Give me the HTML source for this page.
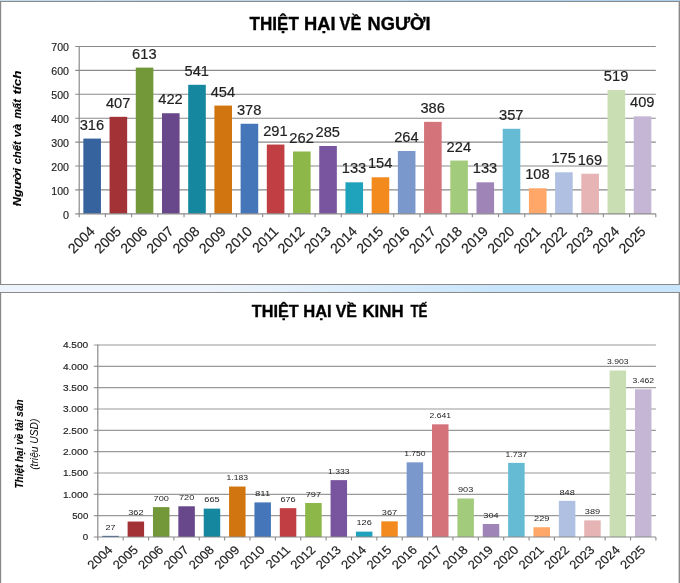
<!DOCTYPE html>
<html lang="vi"><head><meta charset="utf-8"><title>Thiệt hại về người và kinh tế</title>
<style>html,body{margin:0;padding:0;background:#fff}svg{display:block}text{font-family:"Liberation Sans",sans-serif;fill:#222}.k{fill:#000;stroke:#000;stroke-width:.35px}.y{fill:#000;stroke:#000;stroke-width:.12px}.d{stroke:#222;stroke-width:.18px}.e{stroke:#222;stroke-width:.15px}</style></head><body>
<svg width="680" height="583" viewBox="0 0 680 583">
<defs><linearGradient id="bg" x1="0" x2="1" y1="0" y2="0"><stop offset="0" stop-color="#eef4fb"/><stop offset="0.3" stop-color="#eef4fb"/><stop offset="0.74" stop-color="#c9e5fb"/><stop offset="1" stop-color="#c9e5fb"/></linearGradient>
<linearGradient id="tg" x1="0" x2="1" y1="0" y2="0"><stop offset="0" stop-color="#c4dbeb"/><stop offset="1" stop-color="#a9cfee"/></linearGradient></defs>
<rect x="0" y="0" width="680" height="583" fill="#fff"/>
<rect x="0" y="0" width="680" height="1" fill="url(#tg)"/>
<rect x="0" y="285" width="680" height="7" fill="url(#bg)"/>
<rect x="0.5" y="1.5" width="679" height="283" fill="#fff" stroke="#8a8a8a" stroke-width="1"/>
<rect x="0.5" y="292.5" width="679" height="300" fill="#fff" stroke="#8a8a8a" stroke-width="1"/>
<path d="M1.15 2V284M1.15 293V583" stroke="#8a8a8a" stroke-width=".3" fill="none"/>
<path d="M678.75 2V284M678.75 293V583" stroke="#8a8a8a" stroke-width=".5" fill="none"/>
<line x1="75.20" y1="189.90" x2="655.80" y2="189.90" stroke="#8a8a8a" stroke-width="1.1"/>
<line x1="75.20" y1="166.00" x2="655.80" y2="166.00" stroke="#8a8a8a" stroke-width="1.1"/>
<line x1="75.20" y1="142.10" x2="655.80" y2="142.10" stroke="#8a8a8a" stroke-width="1.1"/>
<line x1="75.20" y1="118.20" x2="655.80" y2="118.20" stroke="#8a8a8a" stroke-width="1.1"/>
<line x1="75.20" y1="94.30" x2="655.80" y2="94.30" stroke="#8a8a8a" stroke-width="1.1"/>
<line x1="75.20" y1="70.40" x2="655.80" y2="70.40" stroke="#8a8a8a" stroke-width="1.1"/>
<line x1="75.20" y1="46.50" x2="655.80" y2="46.50" stroke="#8a8a8a" stroke-width="1.1"/>
<rect x="83.35" y="138.58" width="17.60" height="75.22" fill="#36639E"/>
<rect x="109.56" y="116.83" width="17.60" height="96.97" fill="#A33237"/>
<rect x="135.77" y="67.59" width="17.60" height="146.21" fill="#73983A"/>
<rect x="161.98" y="113.24" width="17.60" height="100.56" fill="#68478A"/>
<rect x="188.19" y="84.80" width="17.60" height="129.00" fill="#15889F"/>
<rect x="214.40" y="105.59" width="17.60" height="108.21" fill="#D0750F"/>
<rect x="240.61" y="123.76" width="17.60" height="90.04" fill="#4576BA"/>
<rect x="266.82" y="144.55" width="17.60" height="69.25" fill="#C13E43"/>
<rect x="293.03" y="151.48" width="17.60" height="62.32" fill="#8DB748"/>
<rect x="319.24" y="145.99" width="17.60" height="67.82" fill="#7A559F"/>
<rect x="345.45" y="182.31" width="17.60" height="31.49" fill="#1FA2BC"/>
<rect x="371.65" y="177.29" width="17.60" height="36.51" fill="#F28A1E"/>
<rect x="397.86" y="151.00" width="17.60" height="62.80" fill="#7B98CC"/>
<rect x="424.07" y="121.85" width="17.60" height="91.95" fill="#D47379"/>
<rect x="450.28" y="160.56" width="17.60" height="53.24" fill="#A3CB7C"/>
<rect x="476.49" y="182.31" width="17.60" height="31.49" fill="#9F84B8"/>
<rect x="502.70" y="128.78" width="17.60" height="85.02" fill="#65BBD4"/>
<rect x="528.91" y="188.29" width="17.60" height="25.51" fill="#FEA768"/>
<rect x="555.12" y="172.28" width="17.60" height="41.53" fill="#B0C0E2"/>
<rect x="581.33" y="173.71" width="17.60" height="40.09" fill="#E6B4B5"/>
<rect x="607.54" y="90.06" width="17.60" height="123.74" fill="#C9DFB3"/>
<rect x="633.75" y="116.35" width="17.60" height="97.45" fill="#C4B6D4"/>
<line x1="79.20" y1="46.00" x2="79.20" y2="217.20" stroke="#8a8a8a" stroke-width="1.2"/>
<line x1="75.20" y1="213.80" x2="655.80" y2="213.80" stroke="#8a8a8a" stroke-width="1.2"/>
<line x1="105.41" y1="213.80" x2="105.41" y2="217.20" stroke="#8a8a8a" stroke-width="1.1"/>
<line x1="131.62" y1="213.80" x2="131.62" y2="217.20" stroke="#8a8a8a" stroke-width="1.1"/>
<line x1="157.83" y1="213.80" x2="157.83" y2="217.20" stroke="#8a8a8a" stroke-width="1.1"/>
<line x1="184.04" y1="213.80" x2="184.04" y2="217.20" stroke="#8a8a8a" stroke-width="1.1"/>
<line x1="210.25" y1="213.80" x2="210.25" y2="217.20" stroke="#8a8a8a" stroke-width="1.1"/>
<line x1="236.45" y1="213.80" x2="236.45" y2="217.20" stroke="#8a8a8a" stroke-width="1.1"/>
<line x1="262.66" y1="213.80" x2="262.66" y2="217.20" stroke="#8a8a8a" stroke-width="1.1"/>
<line x1="288.87" y1="213.80" x2="288.87" y2="217.20" stroke="#8a8a8a" stroke-width="1.1"/>
<line x1="315.08" y1="213.80" x2="315.08" y2="217.20" stroke="#8a8a8a" stroke-width="1.1"/>
<line x1="341.29" y1="213.80" x2="341.29" y2="217.20" stroke="#8a8a8a" stroke-width="1.1"/>
<line x1="367.50" y1="213.80" x2="367.50" y2="217.20" stroke="#8a8a8a" stroke-width="1.1"/>
<line x1="393.71" y1="213.80" x2="393.71" y2="217.20" stroke="#8a8a8a" stroke-width="1.1"/>
<line x1="419.92" y1="213.80" x2="419.92" y2="217.20" stroke="#8a8a8a" stroke-width="1.1"/>
<line x1="446.13" y1="213.80" x2="446.13" y2="217.20" stroke="#8a8a8a" stroke-width="1.1"/>
<line x1="472.34" y1="213.80" x2="472.34" y2="217.20" stroke="#8a8a8a" stroke-width="1.1"/>
<line x1="498.55" y1="213.80" x2="498.55" y2="217.20" stroke="#8a8a8a" stroke-width="1.1"/>
<line x1="524.75" y1="213.80" x2="524.75" y2="217.20" stroke="#8a8a8a" stroke-width="1.1"/>
<line x1="550.96" y1="213.80" x2="550.96" y2="217.20" stroke="#8a8a8a" stroke-width="1.1"/>
<line x1="577.17" y1="213.80" x2="577.17" y2="217.20" stroke="#8a8a8a" stroke-width="1.1"/>
<line x1="603.38" y1="213.80" x2="603.38" y2="217.20" stroke="#8a8a8a" stroke-width="1.1"/>
<line x1="629.59" y1="213.80" x2="629.59" y2="217.20" stroke="#8a8a8a" stroke-width="1.1"/>
<line x1="655.80" y1="213.80" x2="655.80" y2="217.20" stroke="#8a8a8a" stroke-width="1.1"/>
<text class="e" x="69" y="218.50" font-size="10.4" text-anchor="end" textLength="6.0" lengthAdjust="spacingAndGlyphs">0</text>
<text class="e" x="69" y="194.60" font-size="10.4" text-anchor="end" textLength="17.7" lengthAdjust="spacingAndGlyphs">100</text>
<text class="e" x="69" y="170.70" font-size="10.4" text-anchor="end" textLength="17.7" lengthAdjust="spacingAndGlyphs">200</text>
<text class="e" x="69" y="146.80" font-size="10.4" text-anchor="end" textLength="17.7" lengthAdjust="spacingAndGlyphs">300</text>
<text class="e" x="69" y="122.90" font-size="10.4" text-anchor="end" textLength="17.7" lengthAdjust="spacingAndGlyphs">400</text>
<text class="e" x="69" y="99.00" font-size="10.4" text-anchor="end" textLength="17.7" lengthAdjust="spacingAndGlyphs">500</text>
<text class="e" x="69" y="75.10" font-size="10.4" text-anchor="end" textLength="17.7" lengthAdjust="spacingAndGlyphs">600</text>
<text class="e" x="69" y="51.20" font-size="10.4" text-anchor="end" textLength="17.7" lengthAdjust="spacingAndGlyphs">700</text>
<text class="d" x="91.90" y="129.68" font-size="14.67" text-anchor="middle">316</text>
<text class="d" x="118.11" y="107.93" font-size="14.67" text-anchor="middle">407</text>
<text class="d" x="144.32" y="58.69" font-size="14.67" text-anchor="middle">613</text>
<text class="d" x="170.53" y="104.34" font-size="14.67" text-anchor="middle">422</text>
<text class="d" x="196.74" y="75.90" font-size="14.67" text-anchor="middle">541</text>
<text class="d" x="222.95" y="96.69" font-size="14.67" text-anchor="middle">454</text>
<text class="d" x="249.16" y="114.86" font-size="14.67" text-anchor="middle">378</text>
<text class="d" x="275.37" y="135.65" font-size="14.67" text-anchor="middle">291</text>
<text class="d" x="301.58" y="142.58" font-size="14.67" text-anchor="middle">262</text>
<text class="d" x="327.79" y="137.09" font-size="14.67" text-anchor="middle">285</text>
<text class="d" x="354.00" y="173.41" font-size="14.67" text-anchor="middle">133</text>
<text class="d" x="380.20" y="168.39" font-size="14.67" text-anchor="middle">154</text>
<text class="d" x="406.41" y="142.10" font-size="14.67" text-anchor="middle">264</text>
<text class="d" x="432.62" y="112.95" font-size="14.67" text-anchor="middle">386</text>
<text class="d" x="458.83" y="151.66" font-size="14.67" text-anchor="middle">224</text>
<text class="d" x="485.04" y="173.41" font-size="14.67" text-anchor="middle">133</text>
<text class="d" x="511.25" y="119.88" font-size="14.67" text-anchor="middle">357</text>
<text class="d" x="537.46" y="179.39" font-size="14.67" text-anchor="middle">108</text>
<text class="d" x="563.67" y="163.38" font-size="14.67" text-anchor="middle">175</text>
<text class="d" x="589.88" y="164.81" font-size="14.67" text-anchor="middle">169</text>
<text class="d" x="616.09" y="81.16" font-size="14.67" text-anchor="middle">519</text>
<text class="d" x="642.30" y="107.45" font-size="14.67" text-anchor="middle">409</text>
<text class="d" transform="translate(95.70,232.3) rotate(-45)" font-size="14.0" text-anchor="end">2004</text>
<text class="d" transform="translate(121.93,232.3) rotate(-45)" font-size="14.0" text-anchor="end">2005</text>
<text class="d" transform="translate(148.16,232.3) rotate(-45)" font-size="14.0" text-anchor="end">2006</text>
<text class="d" transform="translate(174.39,232.3) rotate(-45)" font-size="14.0" text-anchor="end">2007</text>
<text class="d" transform="translate(200.62,232.3) rotate(-45)" font-size="14.0" text-anchor="end">2008</text>
<text class="d" transform="translate(226.85,232.3) rotate(-45)" font-size="14.0" text-anchor="end">2009</text>
<text class="d" transform="translate(253.07,232.3) rotate(-45)" font-size="14.0" text-anchor="end">2010</text>
<text class="d" transform="translate(279.30,232.3) rotate(-45)" font-size="14.0" text-anchor="end">2011</text>
<text class="d" transform="translate(305.53,232.3) rotate(-45)" font-size="14.0" text-anchor="end">2012</text>
<text class="d" transform="translate(331.76,232.3) rotate(-45)" font-size="14.0" text-anchor="end">2013</text>
<text class="d" transform="translate(357.99,232.3) rotate(-45)" font-size="14.0" text-anchor="end">2014</text>
<text class="d" transform="translate(384.21,232.3) rotate(-45)" font-size="14.0" text-anchor="end">2015</text>
<text class="d" transform="translate(410.44,232.3) rotate(-45)" font-size="14.0" text-anchor="end">2016</text>
<text class="d" transform="translate(436.67,232.3) rotate(-45)" font-size="14.0" text-anchor="end">2017</text>
<text class="d" transform="translate(462.90,232.3) rotate(-45)" font-size="14.0" text-anchor="end">2018</text>
<text class="d" transform="translate(489.13,232.3) rotate(-45)" font-size="14.0" text-anchor="end">2019</text>
<text class="d" transform="translate(515.35,232.3) rotate(-45)" font-size="14.0" text-anchor="end">2020</text>
<text class="d" transform="translate(541.58,232.3) rotate(-45)" font-size="14.0" text-anchor="end">2021</text>
<text class="d" transform="translate(567.81,232.3) rotate(-45)" font-size="14.0" text-anchor="end">2022</text>
<text class="d" transform="translate(594.04,232.3) rotate(-45)" font-size="14.0" text-anchor="end">2023</text>
<text class="d" transform="translate(620.27,232.3) rotate(-45)" font-size="14.0" text-anchor="end">2024</text>
<text class="d" transform="translate(646.50,232.3) rotate(-45)" font-size="14.0" text-anchor="end">2025</text>
<text x="249.60" y="30.3" font-size="18.5" font-weight="bold" class="k" textLength="49.20" lengthAdjust="spacingAndGlyphs">THIỆT</text>
<text x="304.00" y="30.3" font-size="18.5" font-weight="bold" class="k" textLength="31.60" lengthAdjust="spacingAndGlyphs">HẠI</text>
<text x="339.50" y="30.3" font-size="18.5" font-weight="bold" class="k" textLength="21.90" lengthAdjust="spacingAndGlyphs">VỀ</text>
<text x="367.60" y="30.3" font-size="18.5" font-weight="bold" class="k" textLength="63.00" lengthAdjust="spacingAndGlyphs">NGƯỜI</text>
<text transform="translate(20.7,206.20) rotate(-90)" font-size="11.8" font-weight="bold" font-style="italic" class="y" textLength="38.18" lengthAdjust="spacingAndGlyphs">Người</text>
<text transform="translate(20.7,164.32) rotate(-90)" font-size="11.8" font-weight="bold" font-style="italic" class="y" textLength="23.02" lengthAdjust="spacingAndGlyphs">chết</text>
<text transform="translate(20.7,137.47) rotate(-90)" font-size="11.8" font-weight="bold" font-style="italic" class="y" textLength="13.79" lengthAdjust="spacingAndGlyphs">và</text>
<text transform="translate(20.7,118.55) rotate(-90)" font-size="11.8" font-weight="bold" font-style="italic" class="y" textLength="19.33" lengthAdjust="spacingAndGlyphs">mất</text>
<text transform="translate(20.7,94.48) rotate(-90)" font-size="11.8" font-weight="bold" font-style="italic" class="y" textLength="24.02" lengthAdjust="spacingAndGlyphs">tích</text>
<line x1="93.80" y1="515.67" x2="655.90" y2="515.67" stroke="#999" stroke-width="1.1"/>
<line x1="93.80" y1="494.33" x2="655.90" y2="494.33" stroke="#999" stroke-width="1.1"/>
<line x1="93.80" y1="473.00" x2="655.90" y2="473.00" stroke="#999" stroke-width="1.1"/>
<line x1="93.80" y1="451.67" x2="655.90" y2="451.67" stroke="#999" stroke-width="1.1"/>
<line x1="93.80" y1="430.33" x2="655.90" y2="430.33" stroke="#999" stroke-width="1.1"/>
<line x1="93.80" y1="409.00" x2="655.90" y2="409.00" stroke="#999" stroke-width="1.1"/>
<line x1="93.80" y1="387.67" x2="655.90" y2="387.67" stroke="#999" stroke-width="1.1"/>
<line x1="93.80" y1="366.33" x2="655.90" y2="366.33" stroke="#999" stroke-width="1.1"/>
<line x1="93.80" y1="345.00" x2="655.90" y2="345.00" stroke="#999" stroke-width="1.1"/>
<rect x="102.23" y="535.85" width="16.50" height="1.15" fill="#36639E"/>
<rect x="127.60" y="521.55" width="16.50" height="15.45" fill="#A33237"/>
<rect x="152.97" y="507.13" width="16.50" height="29.87" fill="#73983A"/>
<rect x="178.34" y="506.28" width="16.50" height="30.72" fill="#68478A"/>
<rect x="203.71" y="508.63" width="16.50" height="28.37" fill="#15889F"/>
<rect x="229.07" y="486.53" width="16.50" height="50.47" fill="#D0750F"/>
<rect x="254.44" y="502.40" width="16.50" height="34.60" fill="#4576BA"/>
<rect x="279.81" y="508.16" width="16.50" height="28.84" fill="#C13E43"/>
<rect x="305.18" y="502.99" width="16.50" height="34.01" fill="#8DB748"/>
<rect x="330.55" y="480.13" width="16.50" height="56.87" fill="#7A559F"/>
<rect x="355.92" y="531.62" width="16.50" height="5.38" fill="#1FA2BC"/>
<rect x="381.28" y="521.34" width="16.50" height="15.66" fill="#F28A1E"/>
<rect x="406.65" y="462.33" width="16.50" height="74.67" fill="#7B98CC"/>
<rect x="432.02" y="424.32" width="16.50" height="112.68" fill="#D47379"/>
<rect x="457.39" y="498.47" width="16.50" height="38.53" fill="#A3CB7C"/>
<rect x="482.76" y="524.03" width="16.50" height="12.97" fill="#9F84B8"/>
<rect x="508.12" y="462.89" width="16.50" height="74.11" fill="#65BBD4"/>
<rect x="533.49" y="527.23" width="16.50" height="9.77" fill="#FEA768"/>
<rect x="558.86" y="500.82" width="16.50" height="36.18" fill="#B0C0E2"/>
<rect x="584.23" y="520.40" width="16.50" height="16.60" fill="#E6B4B5"/>
<rect x="609.60" y="370.47" width="16.50" height="166.53" fill="#C9DFB3"/>
<rect x="634.97" y="389.29" width="16.50" height="147.71" fill="#C4B6D4"/>
<line x1="97.80" y1="344.50" x2="97.80" y2="540.40" stroke="#8a8a8a" stroke-width="1.2"/>
<line x1="93.80" y1="537.00" x2="655.90" y2="537.00" stroke="#8a8a8a" stroke-width="1.2"/>
<line x1="123.17" y1="537.00" x2="123.17" y2="540.40" stroke="#8a8a8a" stroke-width="1.1"/>
<line x1="148.54" y1="537.00" x2="148.54" y2="540.40" stroke="#8a8a8a" stroke-width="1.1"/>
<line x1="173.90" y1="537.00" x2="173.90" y2="540.40" stroke="#8a8a8a" stroke-width="1.1"/>
<line x1="199.27" y1="537.00" x2="199.27" y2="540.40" stroke="#8a8a8a" stroke-width="1.1"/>
<line x1="224.64" y1="537.00" x2="224.64" y2="540.40" stroke="#8a8a8a" stroke-width="1.1"/>
<line x1="250.01" y1="537.00" x2="250.01" y2="540.40" stroke="#8a8a8a" stroke-width="1.1"/>
<line x1="275.38" y1="537.00" x2="275.38" y2="540.40" stroke="#8a8a8a" stroke-width="1.1"/>
<line x1="300.75" y1="537.00" x2="300.75" y2="540.40" stroke="#8a8a8a" stroke-width="1.1"/>
<line x1="326.11" y1="537.00" x2="326.11" y2="540.40" stroke="#8a8a8a" stroke-width="1.1"/>
<line x1="351.48" y1="537.00" x2="351.48" y2="540.40" stroke="#8a8a8a" stroke-width="1.1"/>
<line x1="376.85" y1="537.00" x2="376.85" y2="540.40" stroke="#8a8a8a" stroke-width="1.1"/>
<line x1="402.22" y1="537.00" x2="402.22" y2="540.40" stroke="#8a8a8a" stroke-width="1.1"/>
<line x1="427.59" y1="537.00" x2="427.59" y2="540.40" stroke="#8a8a8a" stroke-width="1.1"/>
<line x1="452.95" y1="537.00" x2="452.95" y2="540.40" stroke="#8a8a8a" stroke-width="1.1"/>
<line x1="478.32" y1="537.00" x2="478.32" y2="540.40" stroke="#8a8a8a" stroke-width="1.1"/>
<line x1="503.69" y1="537.00" x2="503.69" y2="540.40" stroke="#8a8a8a" stroke-width="1.1"/>
<line x1="529.06" y1="537.00" x2="529.06" y2="540.40" stroke="#8a8a8a" stroke-width="1.1"/>
<line x1="554.43" y1="537.00" x2="554.43" y2="540.40" stroke="#8a8a8a" stroke-width="1.1"/>
<line x1="579.80" y1="537.00" x2="579.80" y2="540.40" stroke="#8a8a8a" stroke-width="1.1"/>
<line x1="605.16" y1="537.00" x2="605.16" y2="540.40" stroke="#8a8a8a" stroke-width="1.1"/>
<line x1="630.53" y1="537.00" x2="630.53" y2="540.40" stroke="#8a8a8a" stroke-width="1.1"/>
<line x1="655.90" y1="537.00" x2="655.90" y2="540.40" stroke="#8a8a8a" stroke-width="1.1"/>
<text class="e" x="88.2" y="540.20" font-size="9.3" text-anchor="end" textLength="5.4" lengthAdjust="spacingAndGlyphs">0</text>
<text class="e" x="88.2" y="518.87" font-size="9.3" text-anchor="end" textLength="15.9" lengthAdjust="spacingAndGlyphs">500</text>
<text class="e" x="88.2" y="497.53" font-size="9.3" text-anchor="end" textLength="25.3" lengthAdjust="spacingAndGlyphs">1.000</text>
<text class="e" x="88.2" y="476.20" font-size="9.3" text-anchor="end" textLength="25.3" lengthAdjust="spacingAndGlyphs">1.500</text>
<text class="e" x="88.2" y="454.87" font-size="9.3" text-anchor="end" textLength="25.3" lengthAdjust="spacingAndGlyphs">2.000</text>
<text class="e" x="88.2" y="433.53" font-size="9.3" text-anchor="end" textLength="25.3" lengthAdjust="spacingAndGlyphs">2.500</text>
<text class="e" x="88.2" y="412.20" font-size="9.3" text-anchor="end" textLength="25.3" lengthAdjust="spacingAndGlyphs">3.000</text>
<text class="e" x="88.2" y="390.87" font-size="9.3" text-anchor="end" textLength="25.3" lengthAdjust="spacingAndGlyphs">3.500</text>
<text class="e" x="88.2" y="369.53" font-size="9.3" text-anchor="end" textLength="25.3" lengthAdjust="spacingAndGlyphs">4.000</text>
<text class="e" x="88.2" y="348.20" font-size="9.3" text-anchor="end" textLength="25.3" lengthAdjust="spacingAndGlyphs">4.500</text>
<text x="110.48" y="529.65" font-size="8.1" text-anchor="middle" textLength="10.0" lengthAdjust="spacingAndGlyphs">27</text>
<text x="135.85" y="515.35" font-size="8.1" text-anchor="middle" textLength="15.3" lengthAdjust="spacingAndGlyphs">362</text>
<text x="161.22" y="500.93" font-size="8.1" text-anchor="middle" textLength="15.3" lengthAdjust="spacingAndGlyphs">700</text>
<text x="186.59" y="500.08" font-size="8.1" text-anchor="middle" textLength="15.3" lengthAdjust="spacingAndGlyphs">720</text>
<text x="211.96" y="502.43" font-size="8.1" text-anchor="middle" textLength="15.3" lengthAdjust="spacingAndGlyphs">665</text>
<text x="237.32" y="480.33" font-size="8.1" text-anchor="middle" textLength="21.5" lengthAdjust="spacingAndGlyphs">1.183</text>
<text x="262.69" y="496.20" font-size="8.1" text-anchor="middle" textLength="15.3" lengthAdjust="spacingAndGlyphs">811</text>
<text x="288.06" y="501.96" font-size="8.1" text-anchor="middle" textLength="15.3" lengthAdjust="spacingAndGlyphs">676</text>
<text x="313.43" y="496.79" font-size="8.1" text-anchor="middle" textLength="15.3" lengthAdjust="spacingAndGlyphs">797</text>
<text x="338.80" y="473.93" font-size="8.1" text-anchor="middle" textLength="21.5" lengthAdjust="spacingAndGlyphs">1.333</text>
<text x="364.17" y="525.42" font-size="8.1" text-anchor="middle" textLength="15.3" lengthAdjust="spacingAndGlyphs">126</text>
<text x="389.53" y="515.14" font-size="8.1" text-anchor="middle" textLength="15.3" lengthAdjust="spacingAndGlyphs">367</text>
<text x="414.90" y="456.13" font-size="8.1" text-anchor="middle" textLength="21.5" lengthAdjust="spacingAndGlyphs">1.750</text>
<text x="440.27" y="418.12" font-size="8.1" text-anchor="middle" textLength="21.5" lengthAdjust="spacingAndGlyphs">2.641</text>
<text x="465.64" y="492.27" font-size="8.1" text-anchor="middle" textLength="15.3" lengthAdjust="spacingAndGlyphs">903</text>
<text x="491.01" y="517.83" font-size="8.1" text-anchor="middle" textLength="15.3" lengthAdjust="spacingAndGlyphs">304</text>
<text x="516.38" y="456.69" font-size="8.1" text-anchor="middle" textLength="21.5" lengthAdjust="spacingAndGlyphs">1.737</text>
<text x="541.74" y="521.03" font-size="8.1" text-anchor="middle" textLength="15.3" lengthAdjust="spacingAndGlyphs">229</text>
<text x="567.11" y="494.62" font-size="8.1" text-anchor="middle" textLength="15.3" lengthAdjust="spacingAndGlyphs">848</text>
<text x="592.48" y="514.20" font-size="8.1" text-anchor="middle" textLength="15.3" lengthAdjust="spacingAndGlyphs">389</text>
<text x="617.85" y="364.27" font-size="8.1" text-anchor="middle" textLength="21.5" lengthAdjust="spacingAndGlyphs">3.903</text>
<text x="643.22" y="383.09" font-size="8.1" text-anchor="middle" textLength="21.5" lengthAdjust="spacingAndGlyphs">3.462</text>
<text class="d" transform="translate(113.48,550.7) scale(0.985,0.905) rotate(-45)" font-size="13.33" text-anchor="end">2004</text>
<text class="d" transform="translate(138.85,550.7) scale(0.985,0.905) rotate(-45)" font-size="13.33" text-anchor="end">2005</text>
<text class="d" transform="translate(164.22,550.7) scale(0.985,0.905) rotate(-45)" font-size="13.33" text-anchor="end">2006</text>
<text class="d" transform="translate(189.59,550.7) scale(0.985,0.905) rotate(-45)" font-size="13.33" text-anchor="end">2007</text>
<text class="d" transform="translate(214.96,550.7) scale(0.985,0.905) rotate(-45)" font-size="13.33" text-anchor="end">2008</text>
<text class="d" transform="translate(240.32,550.7) scale(0.985,0.905) rotate(-45)" font-size="13.33" text-anchor="end">2009</text>
<text class="d" transform="translate(265.69,550.7) scale(0.985,0.905) rotate(-45)" font-size="13.33" text-anchor="end">2010</text>
<text class="d" transform="translate(291.06,550.7) scale(0.985,0.905) rotate(-45)" font-size="13.33" text-anchor="end">2011</text>
<text class="d" transform="translate(316.43,550.7) scale(0.985,0.905) rotate(-45)" font-size="13.33" text-anchor="end">2012</text>
<text class="d" transform="translate(341.80,550.7) scale(0.985,0.905) rotate(-45)" font-size="13.33" text-anchor="end">2013</text>
<text class="d" transform="translate(367.17,550.7) scale(0.985,0.905) rotate(-45)" font-size="13.33" text-anchor="end">2014</text>
<text class="d" transform="translate(392.53,550.7) scale(0.985,0.905) rotate(-45)" font-size="13.33" text-anchor="end">2015</text>
<text class="d" transform="translate(417.90,550.7) scale(0.985,0.905) rotate(-45)" font-size="13.33" text-anchor="end">2016</text>
<text class="d" transform="translate(443.27,550.7) scale(0.985,0.905) rotate(-45)" font-size="13.33" text-anchor="end">2017</text>
<text class="d" transform="translate(468.64,550.7) scale(0.985,0.905) rotate(-45)" font-size="13.33" text-anchor="end">2018</text>
<text class="d" transform="translate(494.01,550.7) scale(0.985,0.905) rotate(-45)" font-size="13.33" text-anchor="end">2019</text>
<text class="d" transform="translate(519.38,550.7) scale(0.985,0.905) rotate(-45)" font-size="13.33" text-anchor="end">2020</text>
<text class="d" transform="translate(544.74,550.7) scale(0.985,0.905) rotate(-45)" font-size="13.33" text-anchor="end">2021</text>
<text class="d" transform="translate(570.11,550.7) scale(0.985,0.905) rotate(-45)" font-size="13.33" text-anchor="end">2022</text>
<text class="d" transform="translate(595.48,550.7) scale(0.985,0.905) rotate(-45)" font-size="13.33" text-anchor="end">2023</text>
<text class="d" transform="translate(620.85,550.7) scale(0.985,0.905) rotate(-45)" font-size="13.33" text-anchor="end">2024</text>
<text class="d" transform="translate(646.22,550.7) scale(0.985,0.905) rotate(-45)" font-size="13.33" text-anchor="end">2025</text>
<text x="251.80" y="316.7" font-size="16" font-weight="bold" class="k" textLength="46.80" lengthAdjust="spacingAndGlyphs">THIỆT</text>
<text x="303.20" y="316.7" font-size="16" font-weight="bold" class="k" textLength="28.50" lengthAdjust="spacingAndGlyphs">HẠI</text>
<text x="335.80" y="316.7" font-size="16" font-weight="bold" class="k" textLength="21.10" lengthAdjust="spacingAndGlyphs">VỀ</text>
<text x="362.50" y="316.7" font-size="16" font-weight="bold" class="k" textLength="41.00" lengthAdjust="spacingAndGlyphs">KINH</text>
<text x="410.50" y="316.7" font-size="16" font-weight="bold" class="k" textLength="17.00" lengthAdjust="spacingAndGlyphs">TẾ</text>
<text transform="translate(23.2,488.5) rotate(-90)" font-size="10.2" font-weight="bold" font-style="italic" class="y" textLength="89" lengthAdjust="spacingAndGlyphs">Thiệt hại về tài sản</text>
<text transform="translate(38.4,469.8) rotate(-90)" font-size="10.2" font-style="italic" style="fill:#000" textLength="51.2" lengthAdjust="spacingAndGlyphs">(triệu USD)</text>
</svg></body></html>
